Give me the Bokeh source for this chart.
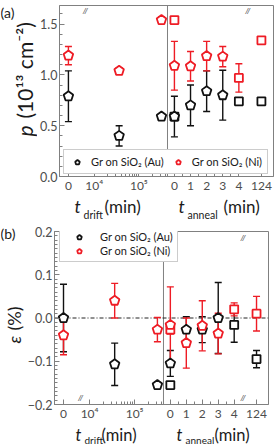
import numpy as np
from bokeh.plotting import figure
from bokeh.models import (Range1d, FixedTicker, Span, Whisker, TeeHead,
                          ColumnDataSource, Label, Legend, LegendItem, CustomJSTickFormatter)
from bokeh.models import glyphs as G
from bokeh.layouts import column, row
from bokeh.embed import file_html
from bokeh.resources import INLINE

# ------------------------------------------------------------------ data
drift_t = [0, 36000, 320000]          # t_drift (min)
anneal_t = [0, 1, 2, 3]               # t_anneal (min), pentagon samples
anneal_sq_t = [0, 4, 124]             # t_anneal (min), square samples

drift_tick_t = [0, 10000, 100000]
drift_tick_labels = ["0", "10⁴", "10⁵"]
anneal_tick_t = [0, 1, 2, 3, 4, 124]
anneal_tick_labels = ["0", "1", "2", "3", "4", "124"]

# panel (a): p (10^13 cm^-2)
p_drift_au = [0.79, 0.40, 0.59]
p_drift_au_err = [0.25, 0.10, 0.02]
p_drift_ni = [1.19, 1.04, 1.54]
p_drift_ni_err = [0.09, 0.03, 0.03]
p_anneal_au = [0.59, 0.70, 0.84, 0.80]
p_anneal_au_err = [0.20, 0.20, 0.20, 0.245]
p_anneal_ni = [1.09, 1.085, 1.185, 1.18]
p_anneal_ni_err = [0.24, 0.145, 0.145, 0.10]
p_sq_au = [0.59, 0.74, 0.74]
p_sq_au_err = [0.02, 0.03, 0.03]
p_sq_ni = [1.54, 0.97, 1.34]
p_sq_ni_err = [0.03, 0.14, 0.03]

# panel (b): strain epsilon (%)
e_drift_au = [0.0, -0.107, -0.155]
e_drift_au_err = [0.078, 0.049, 0.006]
e_drift_ni = [-0.04, 0.04, -0.027]
e_drift_ni_err = [0.045, 0.04, 0.028]
e_anneal_au = [-0.105, -0.027, -0.027, 0.0]
e_anneal_au_err = [0.03, 0.03, 0.03, 0.082]
e_anneal_ni = [-0.016, -0.058, -0.018, -0.036]
e_anneal_ni_err = [0.088, 0.058, 0.058, 0.047]
e_sq_au = [-0.155, -0.016, -0.095]
e_sq_au_err = [0.006, 0.04, 0.02]
e_sq_ni = [-0.027, 0.02, 0.01]
e_sq_ni_err = [0.01, 0.015, 0.04]

legend_labels = ["Gr on SiO₂ (Au)", "Gr on SiO₂ (Ni)"]

# ------------------------------------------------------------------ style
FONT = "Lato"
FRAME = "#808080"
TICKTXT = "#4d4d4d"
TXT = "#1a1a1a"
BLACK = "#111111"
RED = "#ee1c25"

ZERO_POS = 3.42     # where t_drift = 0 sits on the broken log axis
POS_124 = 5.4       # where t_anneal = 124 sits after the break
D0, D1 = 3.22, 5.64
A0, A1 = -0.43, 6.15


def drift_pos(ts):
    return [ZERO_POS if t == 0 else float(np.log10(t)) for t in ts]


def anneal_pos(ts):
    return [POS_124 if t > 4 else float(t) for t in ts]


def style_axis(ax, size):
    ax.axis_line_color = FRAME
    ax.major_tick_line_color = FRAME
    ax.minor_tick_line_color = FRAME
    ax.major_tick_in = 5
    ax.major_tick_out = 0
    ax.minor_tick_in = 3
    ax.minor_tick_out = 0
    ax.major_label_text_font = FONT
    ax.major_label_text_color = TICKTXT
    ax.major_label_text_font_size = size


yfmt = "return (tick < -1e-9 ? '\u2212' : '') + Math.abs(tick).toFixed(1);"


def text_fig(width, height):
    f = figure(width=width, height=height, x_axis_type=None, y_axis_type=None,
               title=None, output_backend="svg", toolbar_location=None, tools="",
               min_border_left=0, min_border_right=0, min_border_top=0,
               min_border_bottom=0)
    f.outline_line_color = None
    f.grid.visible = False
    f.background_fill_color = "white"
    f.border_fill_color = "white"
    return f


def make_panel(width, height, bl, br, bt, bb, yr, split, y_ticks, y_minor):
    W = width - bl - br
    p = figure(width=width, height=height, x_range=Range1d(0, W), y_range=Range1d(*yr),
               title=None, output_backend="svg", toolbar_location=None, tools="",
               min_border_left=bl, min_border_right=br, min_border_top=bt,
               min_border_bottom=bb)
    p.extra_x_ranges = {
        "drift": Range1d(D0, D0 + (D1 - D0) * W / split),
        "anneal": Range1d(A0 - (A1 - A0) * split / (W - split), A1),
    }
    p.grid.visible = False
    p.outline_line_color = FRAME
    p.background_fill_color = "white"
    p.border_fill_color = "white"

    def u_d(v):
        return round((v - D0) / (D1 - D0) * split, 3)

    def u_a(v):
        return round(split + (v - A0) / (A1 - A0) * (W - split), 3)

    majors = [u_d(v) for v in drift_pos(drift_tick_t)] + [u_a(v) for v in anneal_pos(anneal_tick_t)]
    minors = [u_d(np.log10(k * 10 ** e)) for e in (4, 5) for k in range(2, 10)
              if np.log10(k * 10 ** e) < D1]
    minors += [u_a(v) for v in (0.5, 1.5, 2.5, 3.5)]
    bottom = p.xaxis[0]
    bottom.ticker = FixedTicker(ticks=majors, minor_ticks=minors)
    bottom.major_label_overrides = dict(zip(majors, drift_tick_labels + anneal_tick_labels))
    style_axis(bottom, "12px")
    bottom.major_label_standoff = 1

    left = p.yaxis[0]
    left.ticker = FixedTicker(ticks=y_ticks, minor_ticks=list(y_minor))
    left.formatter = CustomJSTickFormatter(code=yfmt)
    style_axis(left, "12.5px")
    left.major_label_standoff = 2

    p.add_layout(Span(location=split, dimension="height", line_color=FRAME,
                      line_width=1, level="underlay"))
    # axis-break marks, kept just inside the frame
    span = yr[1] - yr[0]
    for ux in (u_d(3.8), u_a(4.55)):
        for yy in (yr[0] + 0.035 * span, yr[1] - 0.035 * span):
            p.add_layout(Label(x=ux, y=yy, text="//", text_font=FONT,
                               text_font_size="8px", text_font_style="italic",
                               text_color="#333333", text_align="center",
                               text_baseline="middle"))
    return p


def errbars(p, pos, vals, errs, color, rn):
    src = ColumnDataSource(dict(x=pos, lo=[v - e for v, e in zip(vals, errs)],
                                hi=[v + e for v, e in zip(vals, errs)]))
    w = Whisker(base="x", lower="lo", upper="hi", source=src, dimension="height",
                x_range_name=rn, line_color=color, line_width=1.4, level="underlay",
                upper_head=TeeHead(size=7, line_color=color, line_width=1.4),
                lower_head=TeeHead(size=7, line_color=color, line_width=1.4))
    p.add_layout(w)


NGON = getattr(G, "Ngon", None)


def pentagons(p, pos, vals, errs, color, rn):
    errbars(p, pos, vals, errs, color, rn)
    src = ColumnDataSource(dict(x=pos, y=vals))
    r = None
    if NGON is not None:
        try:
            props = NGON.properties()
            kw = dict(x="x", y="y", radius=5, fill_color="white", line_color=color,
                      line_width=1.8)
            if "radius_units" in props:
                kw["radius_units"] = "screen"
            for nm in ("n", "sides", "num_sides"):
                if nm in props:
                    kw[nm] = 5
                    break
            if "angle" in props:
                kw["angle"] = 0.0
            r = p.add_glyph(src, NGON(**kw), x_range_name=rn)
        except Exception:
            r = None
    if r is None:
        r = p.scatter(x="x", y="y", marker="triangle", size=10, source=src, x_range_name=rn,
                      fill_color="white", line_color=color, line_width=1.8)
    return r


def squares(p, pos, vals, errs, color, rn):
    errbars(p, pos, vals, errs, color, rn)
    src = ColumnDataSource(dict(x=pos, y=vals))
    return p.scatter(x="x", y="y", marker="square", size=8, source=src, x_range_name=rn,
                     fill_color="white", line_color=color, line_width=1.8)


def lab(p, x, y, text, size, italic=False, angle=0.0, color=TXT):
    p.add_layout(Label(x=x, y=y, x_units="screen", y_units="screen", text=text,
                       text_font=FONT, text_font_size=f"{size}px",
                       text_font_style="italic" if italic else "normal",
                       angle=angle, text_align="left", text_baseline="middle",
                       text_color=color))


def fill_panel(p, d_au, d_au_e, d_ni, d_ni_e, a_au, a_au_e, a_ni, a_ni_e,
               s_au, s_au_e, s_ni, s_ni_e):
    dp = drift_pos(drift_t)
    ap = anneal_pos(anneal_t)
    sp = anneal_pos(anneal_sq_t)
    squares(p, sp, s_au, s_au_e, BLACK, "anneal")
    squares(p, sp, s_ni, s_ni_e, RED, "anneal")
    r_au = pentagons(p, dp, d_au, d_au_e, BLACK, "drift")
    pentagons(p, ap, a_au, a_au_e, BLACK, "anneal")
    r_ni = pentagons(p, dp, d_ni, d_ni_e, RED, "drift")
    pentagons(p, ap, a_ni, a_ni_e, RED, "anneal")
    return r_au, r_ni


def legend(p, r_au, r_ni, orientation, location, glyph_w, padding, spacing, standoff):
    leg = Legend(items=[LegendItem(label=legend_labels[0], renderers=[r_au]),
                        LegendItem(label=legend_labels[1], renderers=[r_ni])],
                 orientation=orientation, location=location, margin=0,
                 padding=padding, spacing=spacing, label_standoff=standoff,
                 glyph_width=glyph_w, glyph_height=12, label_height=12,
                 label_text_font=FONT, label_text_font_size="11px",
                 label_text_color=TXT, border_line_color="#9a9a9a",
                 border_line_width=1, background_fill_color="white",
                 background_fill_alpha=1.0)
    p.add_layout(leg)


# ------------------------------------------------------------------ panel (a)
ma = make_panel(239, 195, 20, 3, 5, 15, (0, 1.683), 109,
                [0, 0.5, 1.0, 1.5], np.arange(0, 1.65, 0.1))
ra_au, ra_ni = fill_panel(ma, p_drift_au, p_drift_au_err, p_drift_ni, p_drift_ni_err,
                          p_anneal_au, p_anneal_au_err, p_anneal_ni, p_anneal_ni_err,
                          p_sq_au, p_sq_au_err, p_sq_ni, p_sq_ni_err)
legend(ma, ra_au, ra_ni, "horizontal", (4, 2), 16, 5, 6, 6)

ya = text_fig(37, 195)
lab(ya, 0, 183, "(a)", 14)
lab(ya, 24, 59, "p", 21, italic=True, angle=np.pi / 2)
lab(ya, 24, 77, "(10¹³ cm⁻²)", 21, angle=np.pi / 2)

xa = text_fig(276, 27)
lab(xa, 74, 16.2, "t", 17.5, italic=True)
lab(xa, 83, 7.7, "drift", 10.5)
lab(xa, 104, 16.1, "(min)", 17)
lab(xa, 178, 16.2, "t", 17.5, italic=True)
lab(xa, 187, 7.7, "anneal", 10.5)
lab(xa, 223, 16.1, "(min)", 17)

# ------------------------------------------------------------------ panel (b)
mb = make_panel(252, 201, 28, 8, 9, 15, (-0.2, 0.2), 110,
                [-0.2, -0.1, 0.0, 0.1, 0.2], np.arange(-0.2, 0.2001, 0.01))
mb.add_layout(Span(location=0, dimension="width", line_color="#222222", line_width=1,
                   line_dash="4 2 1 2", level="underlay"))
rb_au, rb_ni = fill_panel(mb, e_drift_au, e_drift_au_err, e_drift_ni, e_drift_ni_err,
                          e_anneal_au, e_anneal_au_err, e_anneal_ni, e_anneal_ni_err,
                          e_sq_au, e_sq_au_err, e_sq_ni, e_sq_ni_err)
legend(mb, rb_au, rb_ni, "vertical", (5, 142), 30, 4, 1, 6)

yb = text_fig(24, 201)
lab(yb, 0, 190, "(b)", 14)
lab(yb, 13, 80, "ε", 18, italic=True, angle=np.pi / 2)
lab(yb, 13, 93, "(%)", 18, angle=np.pi / 2)

xb = text_fig(276, 23)
lab(xb, 75, 11.4, "t", 16.5, italic=True)
lab(xb, 84, 6.2, "drift", 10)
lab(xb, 101, 11.4, "(min)", 16.5)
lab(xb, 176, 11.4, "t", 16.5, italic=True)
lab(xb, 185, 6.2, "anneal", 10)
lab(xb, 214, 11.4, "(min)", 16.5)

# label strips sit beside a one-child column so their frames are not aligned to the plots
layout = column(row(ya, column(ma)), xa, row(yb, column(mb)), xb)
open("out.html", "w").write(file_html(layout, INLINE))
